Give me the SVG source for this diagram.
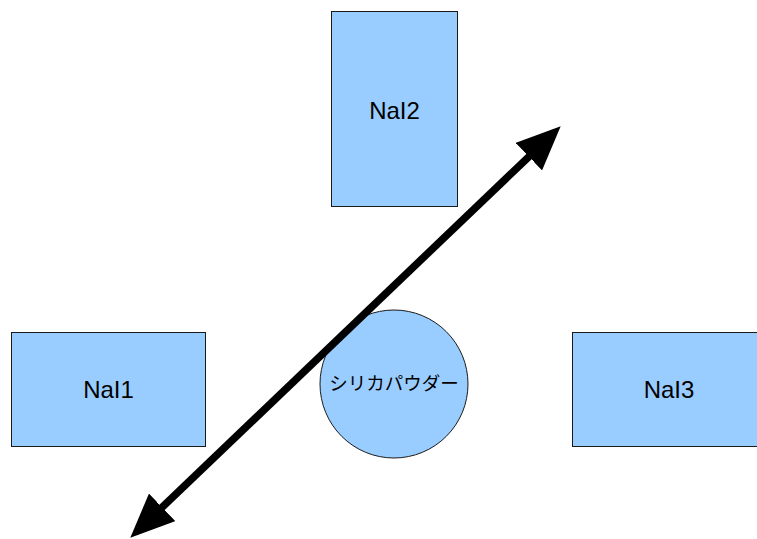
<svg xmlns="http://www.w3.org/2000/svg" width="757" height="539" viewBox="0 0 757 539">
  <style>
    .det { fill: #99ccff; stroke: #1a1a1a; stroke-width: 1; }
    .lbl { font-family: "Liberation Sans", Arial, sans-serif; font-size: 24px; fill: #000; text-anchor: middle; dominant-baseline: central; }
    .jp { font-family: "Liberation Sans", "Noto Sans CJK JP", sans-serif; font-size: 18.5px; fill: #000; text-anchor: middle; dominant-baseline: central; }
    .beam { stroke: #000; stroke-width: 7.5; fill: none; }
  </style>
  <defs>
    <marker id="head" markerUnits="userSpaceOnUse" markerWidth="44" markerHeight="38" viewBox="0 0 44 38" refX="13" refY="19" orient="auto-start-reverse">
      <path d="M0,0 L44,19 L0,38 Z" fill="#000"/>
    </marker>
  </defs>
  <rect width="757" height="539" fill="#fff"/>
  <g id="nai2">
    <rect class="det" x="331.5" y="11.5" width="126" height="195"/>
    <text class="lbl" x="394.5" y="110">NaI2</text>
  </g>
  <g id="nai1">
    <rect class="det" x="11.5" y="332.5" width="194" height="114"/>
    <text class="lbl" x="108.5" y="389">NaI1</text>
  </g>
  <g id="nai3">
    <rect class="det" x="572.5" y="332.5" width="190" height="114"/>
    <text class="lbl" x="669" y="389">NaI3</text>
  </g>
  <g id="silica">
    <circle class="det" cx="394" cy="384" r="74"/>
    <text class="jp" x="394" y="383">シリカパウダー</text>
  </g>
  <g id="connectors">
    <line class="beam" x1="152.7" y1="516.3" x2="538.3" y2="147.7" marker-start="url(#head)" marker-end="url(#head)"/>
  </g>
</svg>
